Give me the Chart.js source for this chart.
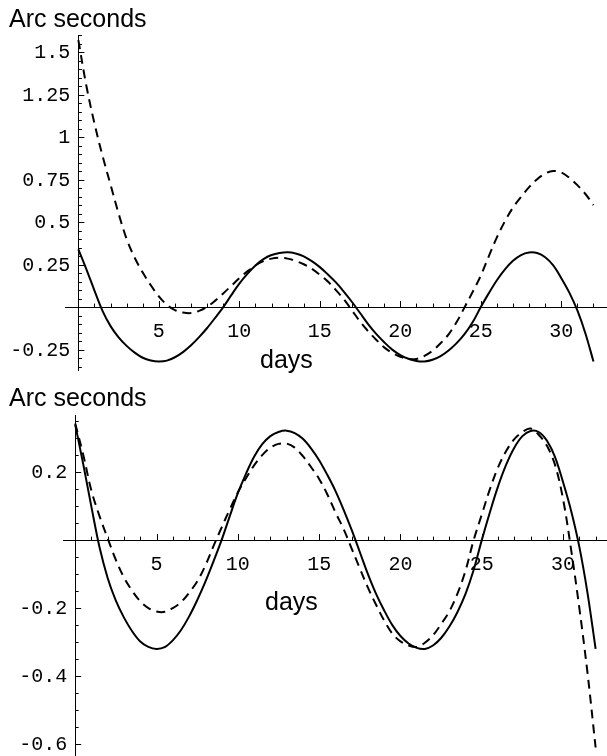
<!DOCTYPE html>
<html>
<head>
<meta charset="utf-8">
<script src="https://cdn.jsdelivr.net/npm/chart.js@4/dist/chart.umd.min.js"></script>
<style>
  html, body { margin: 0; padding: 0; background: #fff; overflow: hidden; }
  #wrap { position: relative; width: 607px; height: 756px; }
  canvas { position: absolute; left: 0; }
</style>
</head>
<body>
<div id="wrap">
  <canvas id="top_chart" width="607" height="380" style="top:0"></canvas>
  <canvas id="bottom_chart" width="607" height="376" style="top:380px"></canvas>
</div>
<script>
// days (x values)
var days = [0, 0.5, 1, 1.5, 2, 2.5, 3, 3.5, 4, 4.5, 5, 5.5, 6, 6.5, 7, 7.5, 8, 8.5, 9, 9.5,
  10, 10.5, 11, 11.5, 12, 12.5, 13, 13.5, 14, 14.5, 15, 15.5, 16, 16.5, 17, 17.5, 18, 18.5, 19, 19.5,
  20, 20.5, 21, 21.5, 22, 22.5, 23, 23.5, 24, 24.5, 25, 25.5, 26, 26.5, 27, 27.5, 28, 28.5, 29, 29.5,
  30, 30.5, 31, 31.5, 32]

// solid curve, same in both panels (arc seconds)
var solidVals = [0.34, 0.222, 0.097, -0.022, -0.112, -0.178, -0.228, -0.268, -0.298, -0.314,
  -0.32, -0.315, -0.295, -0.265, -0.225, -0.177, -0.123, -0.063, 0.0, 0.07,
  0.138, 0.195, 0.245, 0.282, 0.306, 0.318, 0.322, 0.315, 0.298, 0.27,
  0.235, 0.192, 0.145, 0.09, 0.03, -0.035, -0.1, -0.158, -0.207, -0.25,
  -0.282, -0.304, -0.317, -0.32, -0.31, -0.288, -0.255, -0.212, -0.158, -0.088,
  0.0, 0.082, 0.158, 0.222, 0.272, 0.306, 0.321, 0.318, 0.293, 0.245,
  0.17, 0.085, -0.02, -0.155, -0.32]

// dashed curve, upper panel
var dashedTop = [1.57, 1.30, 1.08, 0.89, 0.72, 0.55, 0.40, 0.29, 0.203, 0.128,
  0.063, 0.013, -0.018, -0.032, -0.035, -0.022, 0.002, 0.038, 0.08, 0.125,
  0.17, 0.21, 0.245, 0.27, 0.285, 0.29, 0.285, 0.271, 0.252, 0.225,
  0.19, 0.15, 0.10, 0.045, -0.02, -0.085, -0.142, -0.192, -0.237, -0.27,
  -0.292, -0.305, -0.305, -0.287, -0.257, -0.213, -0.16, -0.088, 0.0, 0.09,
  0.185, 0.30, 0.41, 0.505, 0.585, 0.648, 0.705, 0.752, 0.785, 0.80,
  0.792, 0.76, 0.717, 0.665, 0.60]

// dashed curve, lower panel
var dashedBottom = [0.343, 0.25, 0.145, 0.07, 0.005, -0.058, -0.11, -0.149, -0.18, -0.2,
  -0.21, -0.211, -0.2, -0.183, -0.155, -0.122, -0.075, -0.018, 0.037, 0.09,
  0.14, 0.182, 0.22, 0.25, 0.272, 0.283, 0.284, 0.272, 0.247, 0.215,
  0.18, 0.135, 0.082, 0.033, -0.025, -0.083, -0.14, -0.19, -0.237, -0.275,
  -0.298, -0.31, -0.314, -0.302, -0.28, -0.247, -0.21, -0.158, -0.09, 0.0,
  0.075, 0.15, 0.214, 0.262, 0.297, 0.318, 0.328, 0.31, 0.278, 0.222,
  0.12, -0.03, -0.2, -0.39, -0.61]

var xTickStep = 5
var topYStep = 0.25
var bottomYStep = 0.2

function pts(vals) {
  return days.map(function (d, i) { return { x: d, y: vals[i] } })
}

var monoFont = { family: "'Liberation Mono', 'Courier New', monospace", size: 20 }
var monoCss = "20px 'Liberation Mono', 'Courier New', monospace"
var sansFont = "25px 'Liberation Sans', Arial, sans-serif"

function tickText(v) {
  return Math.abs(v) < 1e-9 ? '' : String(v)
}

// Mathematica style small ticks on the inside of the axes, plus y labels
var tickMarks = {
  id: 'tickMarks',
  afterDatasetsDraw: function (chart, args, opts) {
    var ctx = chart.ctx
    var x = chart.scales.x, y = chart.scales.y
    var x0 = x.getPixelForValue(0), y0 = y.getPixelForValue(0)
    ctx.save()
    ctx.strokeStyle = '#000'
    ctx.lineWidth = 1
    ctx.beginPath()
    for (var d = 1; d <= Math.floor(x.max); d++) {
      var px = Math.round(x.getPixelForValue(d)) + 0.5
      var len = d % 5 === 0 ? 6 : 3.5
      ctx.moveTo(px, y0)
      ctx.lineTo(px, y0 - len)
    }
    var per = Math.round(opts.major / 0.05)
    for (var k = Math.ceil(y.min / 0.05); k <= Math.floor(y.max / 0.05); k++) {
      if (k === 0) continue
      var py = Math.round(y.getPixelForValue(k * 0.05)) + 0.5
      var l = k % per === 0 ? 6 : 3.5
      ctx.moveTo(x0, py)
      ctx.lineTo(x0 + l, py)
    }
    ctx.stroke()

    // y tick labels from the scale's own ticks
    ctx.fillStyle = '#000'
    ctx.font = monoCss
    ctx.textAlign = 'right'
    ctx.textBaseline = 'middle'
    y.ticks.forEach(function (t) {
      var s = tickText(t.value)
      if (s) ctx.fillText(s, x0 - 8, y.getPixelForValue(t.value) + 1)
    })
    ctx.restore()
  }
}

var labels = {
  id: 'labels',
  afterDraw: function (chart, args, opts) {
    var ctx = chart.ctx
    ctx.save()
    ctx.fillStyle = '#000'
    ctx.font = sansFont
    ctx.textBaseline = 'alphabetic'
    ctx.textAlign = 'left'
    ctx.fillText('Arc seconds', opts.titleX, opts.titleY)
    ctx.fillText('days', opts.daysX, opts.daysY)
    ctx.restore()
  }
}

function makeConfig(dashed, xr, yr, yStep, pad, lab) {
  return {
    type: 'line',
    data: {
      datasets: [{
        label: 'solid',
        data: pts(solidVals),
        borderColor: '#000',
        borderWidth: 2,
        pointRadius: 0,
        tension: 0.35,
        fill: false
      },
      {
        label: 'dashed',
        data: pts(dashed),
        borderColor: '#000',
        borderWidth: 2,
        borderDash: [9, 6],
        pointRadius: 0,
        tension: 0.35,
        fill: false
      }]
    },
    options: {
      responsive: false,
      animation: false,
      layout: { padding: pad },
      plugins: {
        legend: { display: false },
        tooltip: { enabled: false },
        tickMarks: { major: yStep },
        labels: lab
      },
      scales: {
        x: {
          type: 'linear',
          min: xr[0], max: xr[1],
          position: { y: 0 },
          grid: { display: false },
          border: { color: '#000', width: 1 },
          ticks: {
            stepSize: xTickStep,
            includeBounds: false,
            autoSkip: false,
            maxRotation: 0,
            padding: 5,
            color: '#000',
            font: monoFont,
            callback: tickText
          }
        },
        y: {
          type: 'linear',
          min: yr[0], max: yr[1],
          position: { x: 0 },
          grid: { display: false },
          border: { color: '#000', width: 1 },
          ticks: {
            display: false,
            stepSize: yStep,
            includeBounds: false,
            autoSkip: false
          },
          afterFit: function (s) {
            s.paddingTop = 0
            s.paddingBottom = 0
          }
        }
      }
    },
    plugins: [tickMarks, labels]
  }
}

var topCanvas = document.getElementById('top_chart')
var top_chart = new Chart(topCanvas, makeConfig(dashedTop, [-0.83, 32.84], [-0.37, 1.6], topYStep,
  { left: 65, right: 0, top: 35, bottom: 10 },
  { titleX: 9, titleY: 27, daysX: 260, daysY: 368 }))

var bottomCanvas = document.getElementById('bottom_chart')
var bottom_chart = new Chart(bottomCanvas, makeConfig(dashedBottom, [-0.75, 32.7], [-0.635, 0.368], bottomYStep,
  { left: 63, right: 0, top: 35, bottom: 0 },
  { titleX: 9, titleY: 26, daysX: 265, daysY: 230 }))
</script>
</body>
</html>
